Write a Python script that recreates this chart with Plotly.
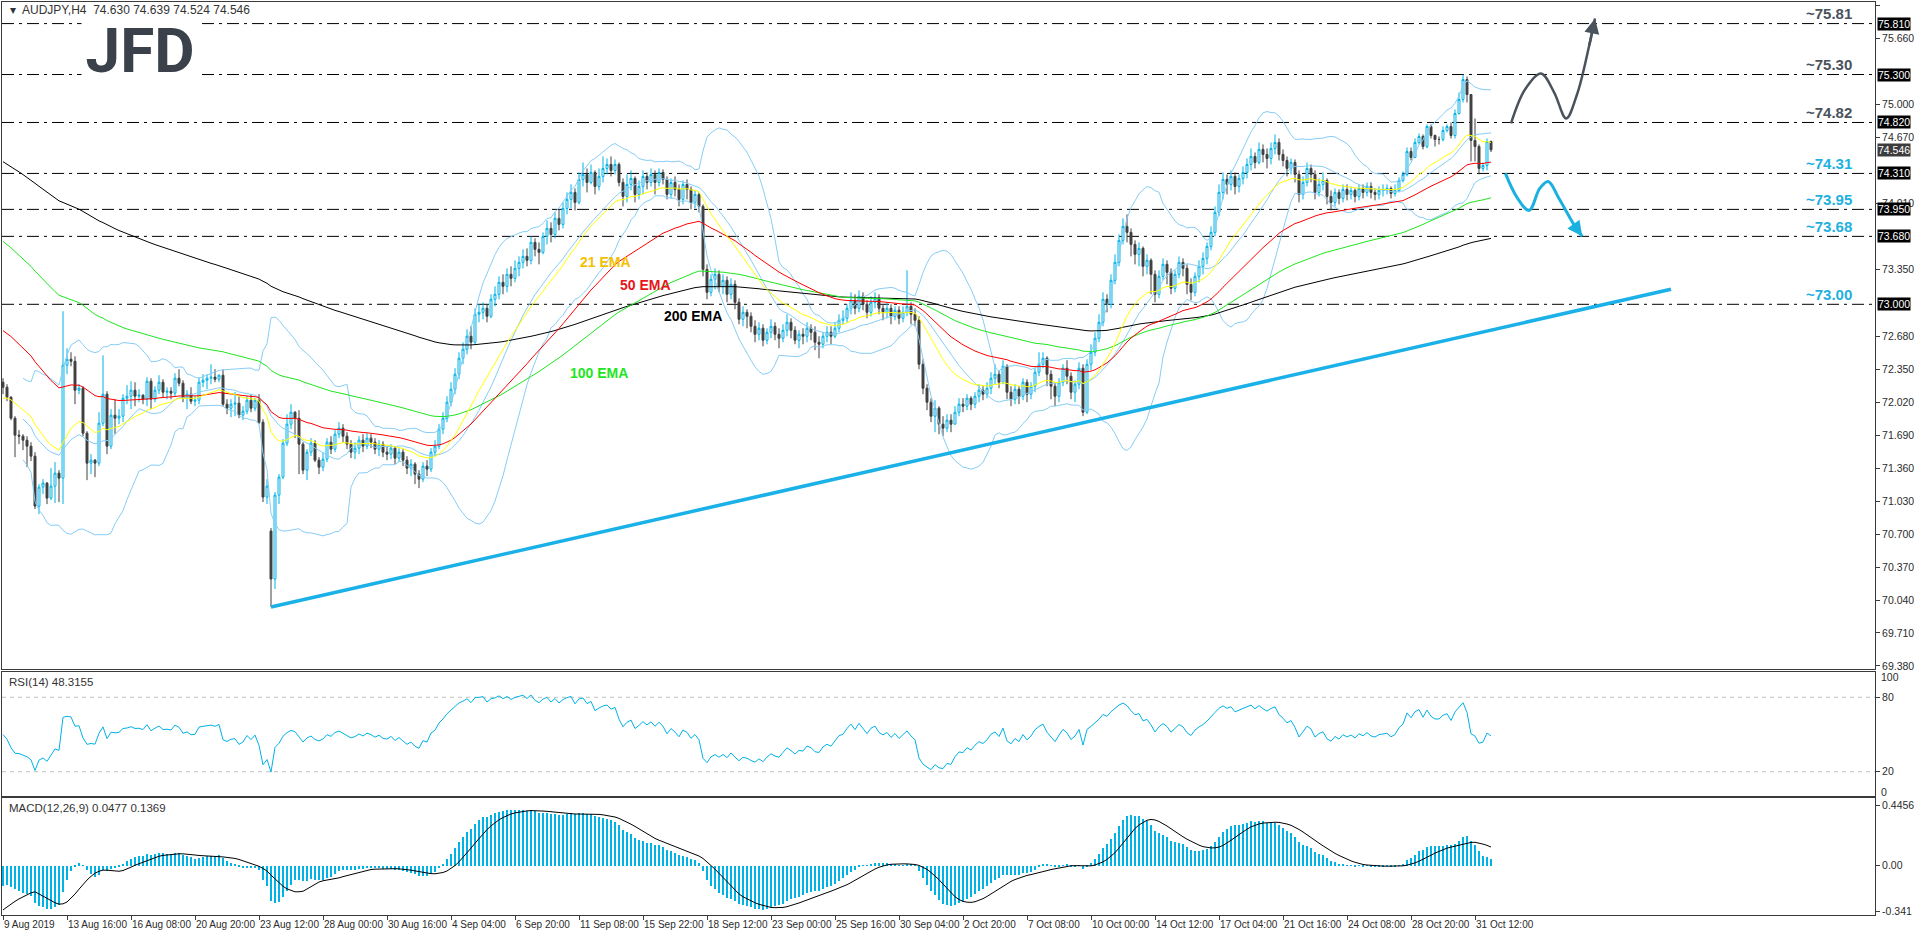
import numpy as np
import pandas as pd
import plotly.graph_objects as go

# ---------------- data ----------------
closes = [
    72.17, 72.07, 71.86, 71.69, 71.68, 71.64, 71.58, 71.48, 70.98, 71.17,
    71.21, 71.06, 71.18, 71.31, 71.26, 72.39, 72.45, 72.43, 72.14, 72.16,
    71.71, 71.41, 71.44, 71.41, 71.81, 72.10, 71.58, 71.89, 71.86, 71.88,
    72.06, 72.08, 72.14, 72.08, 72.09, 72.05, 72.23, 72.05, 72.14, 72.22,
    72.12, 72.13, 72.11, 72.26, 72.21, 72.06, 72.10, 72.03, 72.04, 72.22,
    72.24, 72.26, 72.27, 72.25, 72.29, 72.00, 71.96, 72.00, 72.01, 71.89,
    71.93, 72.04, 71.96, 72.04, 71.82, 71.07, 71.18, 70.25, 71.09, 71.27,
    71.61, 71.80, 71.92, 71.86, 71.60, 71.34, 71.52, 71.61, 71.44, 71.37,
    71.45, 71.62, 71.55, 71.70, 71.76, 71.68, 71.60, 71.52, 71.56, 71.64,
    71.58, 71.66, 71.62, 71.55, 71.60, 71.52, 71.50, 71.56, 71.46, 71.52,
    71.44, 71.36, 71.40, 71.30, 71.25, 71.38, 71.35, 71.52, 71.58, 71.75,
    71.86, 72.02, 72.15, 72.30, 72.46, 72.55, 72.68, 72.62, 72.90, 72.92,
    72.96, 72.88, 73.05, 73.10, 73.22, 73.18, 73.30, 73.26, 73.36, 73.42,
    73.48, 73.44, 73.62, 73.55, 73.52, 73.68, 73.76, 73.70, 73.86, 73.80,
    73.96, 74.05, 74.12, 74.02, 74.25, 74.30, 74.22, 74.32, 74.18, 74.28,
    74.36, 74.40, 74.34, 74.40, 74.22, 74.08, 74.20, 74.26, 74.10, 74.18,
    74.28, 74.22, 74.30, 74.22, 74.32, 74.25, 74.10, 74.22, 74.15, 74.05,
    74.20, 74.15, 74.02, 74.10, 73.98, 73.35, 73.12, 73.25, 73.30, 73.18,
    73.24, 73.10, 73.20, 73.02, 72.85, 72.92, 72.88, 72.78, 72.70, 72.76,
    72.64, 72.72, 72.78, 72.70, 72.66, 72.74, 72.82, 72.74, 72.64, 72.70,
    72.68, 72.76, 72.72, 72.62, 72.60, 72.68, 72.72, 72.68, 72.76, 72.84,
    72.86, 72.96, 73.04, 72.96, 73.08, 73.00, 72.92, 73.02, 73.06, 72.96,
    72.92, 72.96, 72.88, 72.94, 72.86, 72.92, 72.98, 72.90, 72.84, 72.40,
    72.16, 72.02, 71.88, 71.96, 71.80, 71.76, 71.84, 71.80, 71.92, 72.00,
    71.98, 72.06, 72.00, 72.08, 72.14, 72.10, 72.16, 72.26, 72.30, 72.22,
    72.38, 72.12, 72.05, 72.15, 72.08, 72.22, 72.10, 72.18, 72.32, 72.40,
    72.46, 72.30, 72.18, 72.08, 72.22, 72.36, 72.28, 72.12, 72.20, 72.36,
    71.92, 72.40, 72.52, 72.66, 72.82, 73.05, 73.00, 73.24, 73.42, 73.64,
    73.78, 73.72, 73.60, 73.50, 73.56, 73.38, 73.44, 73.30, 73.10, 73.28,
    73.40, 73.32, 73.16, 73.30, 73.42, 73.36, 73.20, 73.12, 73.28, 73.38,
    73.46, 73.58, 73.72, 73.92, 74.12, 74.25, 74.20, 74.28, 74.18, 74.26,
    74.32, 74.40, 74.48, 74.42, 74.55, 74.50, 74.46, 74.56, 74.62, 74.50,
    74.44, 74.36, 74.42, 74.30, 74.10, 74.22, 74.36, 74.30, 74.12, 74.20,
    74.24, 74.08, 74.02, 74.12, 74.06, 74.15, 74.10, 74.14, 74.08, 74.16,
    74.12, 74.18, 74.12, 74.10, 74.14, 74.15, 74.16, 74.11, 74.14, 74.24,
    74.30, 74.53, 74.47, 74.62, 74.68, 74.58, 74.78, 74.69, 74.65, 74.65,
    74.74, 74.78, 74.69, 74.91, 75.05, 75.25, 75.10, 74.64, 74.58, 74.36,
    74.39, 74.63, 74.546,
]
highs = [
    72.26, 72.20, 72.08, 71.88, 71.74, 71.70, 71.68, 71.62, 71.52, 71.20,
    71.25, 71.22, 71.36, 71.42, 71.34, 72.93, 72.56, 72.52, 72.48, 72.20,
    72.18, 71.73, 71.50, 71.45, 71.92, 72.49, 72.13, 71.95, 72.05, 71.95,
    72.10, 72.19, 72.23, 72.22, 72.15, 72.10, 72.27, 72.26, 72.18, 72.29,
    72.25, 72.17, 72.17, 72.31, 72.35, 72.24, 72.14, 72.17, 72.08, 72.27,
    72.30, 72.30, 72.40, 72.35, 72.30, 72.35, 72.05, 72.05, 72.12, 72.08,
    71.98, 72.08, 72.10, 72.06, 72.10, 71.85, 71.25, 70.76, 71.12, 71.30,
    71.65, 71.90, 72.00, 71.93, 71.94, 71.62, 71.55, 71.66, 71.64, 71.47,
    71.52, 71.66, 71.68, 71.74, 71.82, 71.80, 71.72, 71.64, 71.62, 71.68,
    71.70, 71.71, 71.70, 71.66, 71.64, 71.63, 71.58, 71.60, 71.58, 71.56,
    71.55, 71.48, 71.45, 71.42, 71.34, 71.42, 71.44, 71.56, 71.64, 71.80,
    71.92, 72.08, 72.22, 72.36, 72.52, 72.62, 72.75, 72.78, 72.96, 73.00,
    73.02, 73.00, 73.10, 73.18, 73.28, 73.30, 73.36, 73.38, 73.44, 73.48,
    73.55, 73.56, 73.68, 73.66, 73.62, 73.72, 73.84, 73.82, 73.92, 73.95,
    74.02, 74.12, 74.20, 74.16, 74.32, 74.42, 74.36, 74.40, 74.34, 74.36,
    74.48, 74.46, 74.48, 74.45, 74.42, 74.26, 74.30, 74.34, 74.28, 74.24,
    74.34, 74.32, 74.36, 74.34, 74.36, 74.35, 74.28, 74.26, 74.28, 74.20,
    74.24, 74.25, 74.18, 74.14, 74.12, 74.00, 73.40, 73.30, 73.36, 73.34,
    73.30, 73.28, 73.26, 73.24, 73.06, 72.98, 72.95, 72.92, 72.84, 72.82,
    72.80, 72.76, 72.85, 72.82, 72.76, 72.80, 72.90, 72.86, 72.78, 72.74,
    72.76, 72.82, 72.80, 72.78, 72.68, 72.72, 72.78, 72.78, 72.82, 72.90,
    72.94, 73.00, 73.12, 73.10, 73.14, 73.12, 73.04, 73.08, 73.12, 73.10,
    73.00, 73.02, 73.00, 72.98, 72.98, 72.98, 73.34, 73.02, 72.96, 72.88,
    72.45, 72.20, 72.06, 72.04, 71.98, 71.88, 71.90, 71.90, 71.98, 72.06,
    72.06, 72.10, 72.08, 72.12, 72.20, 72.18, 72.22, 72.32, 72.40, 72.34,
    72.44, 72.40, 72.18, 72.20, 72.18, 72.26, 72.25, 72.22, 72.36, 72.52,
    72.52, 72.48, 72.34, 72.22, 72.26, 72.40, 72.44, 72.32, 72.24, 72.42,
    72.40, 72.45, 72.60, 72.72, 72.90, 73.12, 73.10, 73.30, 73.50, 73.70,
    73.86, 73.90, 73.76, 73.64, 73.62, 73.58, 73.50, 73.46, 73.34, 73.34,
    73.46, 73.44, 73.36, 73.34, 73.48, 73.46, 73.40, 73.26, 73.32, 73.44,
    73.52, 73.62, 73.78, 73.98, 74.20, 74.32, 74.30, 74.34, 74.32, 74.30,
    74.38, 74.46, 74.56, 74.52, 74.62, 74.60, 74.56, 74.62, 74.70, 74.66,
    74.55, 74.48, 74.46, 74.45, 74.34, 74.28, 74.42, 74.40, 74.34, 74.26,
    74.32, 74.26, 74.14, 74.16, 74.15, 74.20, 74.20, 74.18, 74.16, 74.20,
    74.20, 74.22, 74.22, 74.16, 74.18, 74.20, 74.20, 74.18, 74.20, 74.27,
    74.33, 74.57, 74.57, 74.66, 74.71, 74.70, 74.80, 74.80, 74.70, 74.68,
    74.78, 74.80, 74.82, 74.95, 75.12, 75.30, 75.28, 75.10, 74.86, 74.60,
    74.42, 74.66, 74.639,
]
lows = [
    72.10, 72.03, 71.84, 71.47, 71.60, 71.54, 71.37, 71.43, 70.95, 70.90,
    71.10, 71.00, 71.04, 71.01, 71.02, 71.00, 72.30, 72.38, 72.00, 72.10,
    71.68, 71.24, 71.30, 71.27, 71.38, 71.78, 71.50, 71.55, 71.70, 71.80,
    71.82, 72.00, 71.95, 71.98, 72.02, 72.00, 71.98, 71.95, 72.02, 72.10,
    72.07, 72.05, 72.05, 72.08, 72.18, 72.02, 71.95, 72.00, 71.98, 72.00,
    72.17, 72.15, 72.20, 72.22, 72.22, 71.98, 71.90, 71.87, 71.88, 71.86,
    71.84, 71.90, 71.92, 71.93, 71.80, 71.02, 71.00, 69.97, 70.15, 71.00,
    71.25, 71.58, 71.75, 71.66, 71.30, 71.30, 71.24, 71.48, 71.42, 71.30,
    71.33, 71.42, 71.50, 71.52, 71.66, 71.62, 71.55, 71.46, 71.45, 71.50,
    71.52, 71.55, 71.56, 71.50, 71.48, 71.47, 71.44, 71.45, 71.40, 71.42,
    71.38, 71.30, 71.28, 71.20, 71.16, 71.22, 71.28, 71.32, 71.48, 71.55,
    71.70, 71.82, 71.98, 72.10, 72.25, 72.40, 72.50, 72.55, 72.60, 72.82,
    72.85, 72.82, 72.86, 72.98, 73.05, 73.10, 73.12, 73.18, 73.22, 73.28,
    73.36, 73.38, 73.40, 73.48, 73.40, 73.50, 73.60, 73.62, 73.66, 73.74,
    73.76, 73.90, 73.96, 73.94, 74.00, 74.18, 74.12, 74.20, 74.10, 74.14,
    74.22, 74.30, 74.28, 74.30, 74.18, 73.98, 74.02, 74.14, 74.02, 74.05,
    74.10, 74.15, 74.18, 74.10, 74.18, 74.20, 74.05, 74.06, 74.08, 73.98,
    74.00, 74.05, 73.95, 73.96, 73.92, 73.28, 73.05, 73.08, 73.15, 73.12,
    73.10, 73.02, 73.05, 72.95, 72.80, 72.78, 72.76, 72.72, 72.62, 72.64,
    72.58, 72.60, 72.66, 72.64, 72.56, 72.62, 72.68, 72.66, 72.60, 72.56,
    72.60, 72.62, 72.64, 72.54, 72.46, 72.56, 72.62, 72.60, 72.66, 72.72,
    72.80, 72.82, 72.90, 72.90, 72.92, 72.94, 72.86, 72.88, 72.96, 72.90,
    72.84, 72.86, 72.80, 72.84, 72.80, 72.82, 72.88, 72.80, 72.78, 72.35,
    72.10, 71.94, 71.82, 71.72, 71.70, 71.68, 71.72, 71.72, 71.80, 71.88,
    71.92, 71.94, 71.94, 71.96, 72.02, 72.04, 72.06, 72.10, 72.20, 72.16,
    72.20, 72.05, 71.98, 72.00, 72.00, 72.04, 72.02, 72.05, 72.12, 72.28,
    72.36, 72.18, 72.05, 71.98, 72.02, 72.18, 72.20, 72.05, 72.02, 72.15,
    71.88, 71.90, 72.34, 72.48, 72.62, 72.78, 72.92, 72.96, 73.20, 73.38,
    73.60, 73.62, 73.48, 73.40, 73.38, 73.28, 73.30, 73.10, 73.02, 73.06,
    73.24, 73.20, 73.10, 73.12, 73.26, 73.28, 73.10, 73.04, 73.08, 73.22,
    73.30, 73.40, 73.54, 73.68, 73.88, 74.05, 74.10, 74.14, 74.10, 74.12,
    74.20, 74.26, 74.34, 74.36, 74.40, 74.42, 74.36, 74.40, 74.50, 74.44,
    74.38, 74.28, 74.30, 74.22, 74.02, 74.05, 74.18, 74.22, 74.05, 74.08,
    74.14, 74.00, 73.94, 73.98, 74.00, 74.02, 74.04, 74.05, 74.02, 74.04,
    74.06, 74.08, 74.06, 74.04, 74.05, 74.08, 74.10, 74.06, 74.08, 74.12,
    74.22, 74.28, 74.44, 74.47, 74.60, 74.55, 74.56, 74.66, 74.58, 74.60,
    74.63, 74.72, 74.66, 74.66, 74.90, 75.02, 75.02, 74.43, 74.43, 74.30,
    74.33, 74.34, 74.524,
]
first_open = 72.22
gap_opens = {67: 70.73, 372: 74.630}

# indicator starting values read at the left edge of the reference
ema_seeds = {21: 72.05, 50: 72.76, 100: 73.66, 200: 74.45}
macd_fast_seed, macd_slow_seed, macd_signal_seed = 72.12, 72.29, -0.35
rsi_seed_gain, rsi_seed_loss = 0.05, 0.05

# x-axis labels (one every 16 H4 bars)
tick_bars = [0, 16, 32, 48, 64, 80, 96, 112, 128, 144, 160, 176, 192, 208,
             224, 240, 256, 272, 288, 304, 320, 336, 352, 368]
tick_texts = ["9 Aug 2019", "13 Aug 16:00", "16 Aug 08:00", "20 Aug 20:00",
              "23 Aug 12:00", "28 Aug 00:00", "30 Aug 16:00", "4 Sep 04:00",
              "6 Sep 20:00", "11 Sep 08:00", "15 Sep 22:00", "18 Sep 12:00",
              "23 Sep 00:00", "25 Sep 16:00", "30 Sep 04:00", "2 Oct 20:00",
              "7 Oct 08:00", "10 Oct 00:00", "14 Oct 12:00", "17 Oct 04:00",
              "21 Oct 16:00", "24 Oct 08:00", "28 Oct 20:00", "31 Oct 12:00"]

price_ticks = [75.99, 75.66, 75.00, 74.67, 74.01, 73.35, 72.68, 72.35, 72.02,
               71.69, 71.36, 71.03, 70.70, 70.37, 70.04, 69.71, 69.38]

levels = [75.81, 75.30, 74.82, 74.31, 73.95, 73.68, 73.00]
level_texts = ["~75.81", "~75.30", "~74.82", "~74.31", "~73.95", "~73.68", "~73.00"]
level_colors = ["#4a525c", "#4a525c", "#4a525c", "#1eb0e0", "#1eb0e0", "#1eb0e0", "#1eb0e0"]
last_price = 74.546

trend_bars = [67, 417]
trend_prices = [69.97, 73.15]

up_path_bars = [377, 380.5, 384.5, 387.8, 390.8, 393.5, 396.5]
up_path_prices = [74.81, 75.15, 75.31, 75.12, 74.86, 75.10, 75.58]
up_tip = (398.0, 75.86)
down_path_bars = [375.6, 378.5, 381.5, 384.2, 386.3, 389.0, 393.0]
down_path_prices = [74.31, 74.07, 73.94, 74.16, 74.23, 74.06, 73.78]
down_tip = (394.8, 73.68)

rsi_levels = [80, 20]
macd_ticks = [0.4456, 0.0, -0.341]

# ---------------- derived series ----------------
n = len(closes)
assert len(highs) == n and len(lows) == n
bars = np.arange(n)
opens = [first_open] + closes[:-1]
for k, v in gap_opens.items():
    opens[k] = v
o = np.array(opens)
c = np.array(closes)
h = np.maximum.reduce([np.array(highs), o, c])
l = np.minimum.reduce([np.array(lows), o, c])


def ema(src, period, seed):
    a = 2.0 / (period + 1)
    out, prev = [], seed
    for v in src:
        prev = prev + a * (v - prev)
        out.append(prev)
    return np.array(out)


emas = {p: ema(c, p, s) for p, s in ema_seeds.items()}

cs = pd.Series(c)
bb_mid = cs.rolling(20, min_periods=6).mean()
bb_sd = cs.rolling(20, min_periods=6).std(ddof=0)
bb_up = bb_mid + 2 * bb_sd
bb_dn = bb_mid - 2 * bb_sd

# RSI(14), Wilder
ag, al = rsi_seed_gain, rsi_seed_loss
rsi = []
prev = c[0]
for v in c:
    d = v - prev
    prev = v
    ag = (ag * 13 + max(d, 0)) / 14
    al = (al * 13 + max(-d, 0)) / 14
    rsi.append(100 - 100 / (1 + ag / al) if al > 0 else 100)
rsi = np.array(rsi)

# MACD(12,26,9), MT4 style: main as histogram, SMA signal line
macd_main = ema(c, 12, macd_fast_seed) - ema(c, 26, macd_slow_seed)
padded = np.concatenate([np.full(8, macd_signal_seed), macd_main])
macd_sig = np.array([padded[i:i + 9].mean() for i in range(n)])

# ---------------- figure ----------------
CYAN = "#00b2e6"
DARK = "#404040"
BB = "#87cdf5"
AX = "#3a3a3a"
FONT = "Liberation Sans, Arial, sans-serif"
W, H = 1916, 936
ML, MR, MT, MB = 2, 41, 2, 21
PW = W - ML - MR
PH = H - MT - MB


def px_x(px):
    return (px - ML) / PW


def px_y(py):
    return (H - MB - py) / PH


fig = go.Figure()
fig.add_trace(go.Candlestick(
    x=bars, open=o, high=h, low=l, close=c, xaxis="x", yaxis="y",
    increasing=dict(line=dict(color=CYAN, width=1), fillcolor="white"),
    decreasing=dict(line=dict(color=DARK, width=1), fillcolor=DARK),
    whiskerwidth=0, hoverinfo="skip"))

for s in (bb_up, bb_mid, bb_dn):
    fig.add_trace(go.Scatter(x=bars, y=s, mode="lines", line=dict(color=BB, width=1),
                             xaxis="x", yaxis="y", hoverinfo="skip"))
ema_colors = {21: "#ffff00", 50: "#ff0000", 100: "#1ee61e", 200: "#000000"}
for p in (200, 100, 50, 21):
    fig.add_trace(go.Scatter(x=bars, y=emas[p], mode="lines",
                             line=dict(color=ema_colors[p], width=1),
                             xaxis="x", yaxis="y", hoverinfo="skip"))

# trendline and projections
fig.add_trace(go.Scatter(x=trend_bars, y=trend_prices, mode="lines",
                         line=dict(color="#1ab0e8", width=3.5), xaxis="x", yaxis="y"))
fig.add_trace(go.Scatter(x=up_path_bars + [up_tip[0]], y=up_path_prices + [up_tip[1]],
                         mode="lines", line=dict(color="#4a525c", width=2.5, shape="spline"),
                         xaxis="x", yaxis="y"))
fig.add_trace(go.Scatter(x=down_path_bars + [down_tip[0]], y=down_path_prices + [down_tip[1]],
                         mode="lines", line=dict(color="#1ab0e0", width=3, shape="spline"),
                         xaxis="x", yaxis="y"))

# RSI
fig.add_trace(go.Scatter(x=bars, y=rsi, mode="lines", line=dict(color=CYAN, width=1),
                         xaxis="x2", yaxis="y2", hoverinfo="skip"))
# MACD
fig.add_trace(go.Bar(x=bars, y=macd_main, width=0.3, marker=dict(color=CYAN, line=dict(width=0)),
                     xaxis="x3", yaxis="y3", hoverinfo="skip"))
fig.add_trace(go.Scatter(x=bars, y=macd_sig, mode="lines", line=dict(color="black", width=1),
                         xaxis="x3", yaxis="y3", hoverinfo="skip"))

xr = [-0.25, 468]
frame = dict(showline=True, mirror=True, linecolor=AX, linewidth=1,
             showgrid=False, zeroline=False)
tickfont = dict(family=FONT, size=10.5, color="#2b2b2b")
xtickfont = dict(family=FONT, size=10, color="#2b2b2b")

fig.update_layout(
    width=W, height=H, margin=dict(l=ML, r=MR, t=MT, b=MB),
    paper_bgcolor="white", plot_bgcolor="white", showlegend=False, bargap=0,
    xaxis=dict(domain=[0, 1], range=xr, anchor="y", showticklabels=False,
               rangeslider=dict(visible=False), **frame),
    yaxis=dict(domain=[0.2694, 1], range=[69.349, 76.026], anchor="x", side="right",
               tickvals=price_ticks, ticktext=[f"{v:.3f}" for v in price_ticks],
               ticks="outside", ticklen=4, tickcolor=AX, tickfont=tickfont, **frame),
    xaxis2=dict(domain=[0, 1], range=xr, anchor="y2", showticklabels=False, **frame),
    yaxis2=dict(domain=[0.1303, 0.2662], range=[0.4, 100.4], anchor="x2", side="right",
                tickvals=rsi_levels, ticktext=[str(v) for v in rsi_levels],
                ticks="outside", ticklen=4, tickcolor=AX, tickfont=tickfont, **frame),
    xaxis3=dict(domain=[0, 1], range=xr, anchor="y3", tickvals=tick_bars, ticktext=tick_texts,
                ticks="outside", ticklen=4, tickcolor=AX, tickfont=xtickfont, tickangle=0,
                ticklabelposition="outside right", **frame),
    yaxis3=dict(domain=[0, 0.1281], range=[-0.366, 0.5007], anchor="x3", side="right",
                tickvals=macd_ticks, ticktext=["0.4456", "0.00", "-0.341"],
                ticks="outside", ticklen=4, tickcolor=AX, tickfont=tickfont, **frame),
)

shapes = []
for lv in levels:
    shapes.append(dict(type="line", xref="x domain", yref="y", x0=0, x1=1, y0=lv, y1=lv,
                       line=dict(color="black", width=1, dash="12px,5px,3px,5px"), layer="below"))
for lv in rsi_levels:
    shapes.append(dict(type="line", xref="x2 domain", yref="y2", x0=0, x1=1, y0=lv, y1=lv,
                       line=dict(color="#c0c0c0", width=1, dash="4px,4px"), layer="below"))
fig.update_layout(shapes=shapes)

ann = []
ann.append(dict(text="\u25BE  AUDJPY,H4  74.630 74.639 74.524 74.546", xref="paper", yref="paper",
                x=px_x(8), y=px_y(10), xanchor="left", yanchor="middle",
                showarrow=False, font=dict(family=FONT, size=12, color="#333")))
ann.append(dict(text="RSI(14) 48.3155", xref="paper", yref="paper", x=px_x(7),
                y=px_y(682), xanchor="left", yanchor="middle",
                showarrow=False, font=dict(family=FONT, size=11.5, color="#333")))
ann.append(dict(text="MACD(12,26,9) 0.0477 0.1369", xref="paper", yref="paper", x=px_x(7),
                y=px_y(808), xanchor="left", yanchor="middle",
                showarrow=False, font=dict(family=FONT, size=11.5, color="#333")))
for lab, yv in (("100", 96), ("0", 4)):
    ann.append(dict(text=lab, xref="paper", yref="y2", x=1, y=yv, xanchor="left",
                    yanchor="middle", xshift=4, showarrow=False, font=tickfont))
for lv, t, col in zip(levels, level_texts, level_colors):
    ann.append(dict(text=t, xref="paper", yref="y", x=px_x(1829), y=lv, yshift=10,
                    xanchor="center", yanchor="middle", showarrow=False,
                    font=dict(family=FONT, size=15, color=col, weight="bold")))
    ann.append(dict(text=f"{lv:.3f}", xref="paper", yref="y", x=1, y=lv, xshift=2,
                    xanchor="left", yanchor="middle", showarrow=False, bgcolor="black",
                    borderpad=0, font=dict(family=FONT, size=10.5, color="white")))
ann.append(dict(text=f"{last_price:.3f}", xref="paper", yref="y", x=1, y=last_price, xshift=2,
                xanchor="left", yanchor="middle", showarrow=False, bgcolor="#3c3c3c",
                borderpad=0, font=dict(family=FONT, size=10.5, color="white")))
for t, bx, py, col in (("21 EMA", 150.5, 73.42, "#f5c000"), ("50 EMA", 160.5, 73.19, "#e8141a"),
                       ("200 EMA", 172.5, 72.88, "#000000"), ("100 EMA", 149.0, 72.31, "#1ee61e")):
    ann.append(dict(text=t, xref="x", yref="y", x=bx, y=py, showarrow=False,
                    xanchor="center", yanchor="middle",
                    font=dict(family=FONT, size=14, color=col, weight="bold")))
ann.append(dict(text="JFD", xref="paper", yref="paper", x=px_x(140), y=px_y(50),
                showarrow=False, xanchor="center", yanchor="middle", bgcolor="white",
                borderpad=0, width=116, height=58,
                font=dict(family="Roboto, Liberation Sans", size=62, color="#3a414a", weight="bold")))
ann.append(dict(x=up_tip[0], y=up_tip[1], ax=up_path_bars[-1], ay=up_path_prices[-1],
                xref="x", yref="y", axref="x", ayref="y", text="", showarrow=True,
                arrowhead=2, arrowsize=1.2, arrowwidth=2.5, arrowcolor="#4a525c"))
ann.append(dict(x=down_tip[0], y=down_tip[1], ax=down_path_bars[-1], ay=down_path_prices[-1],
                xref="x", yref="y", axref="x", ayref="y", text="", showarrow=True,
                arrowhead=2, arrowsize=1.2, arrowwidth=2.5, arrowcolor="#1ab0e0"))
fig.update_layout(annotations=ann)

fig.write_html("out.html")
